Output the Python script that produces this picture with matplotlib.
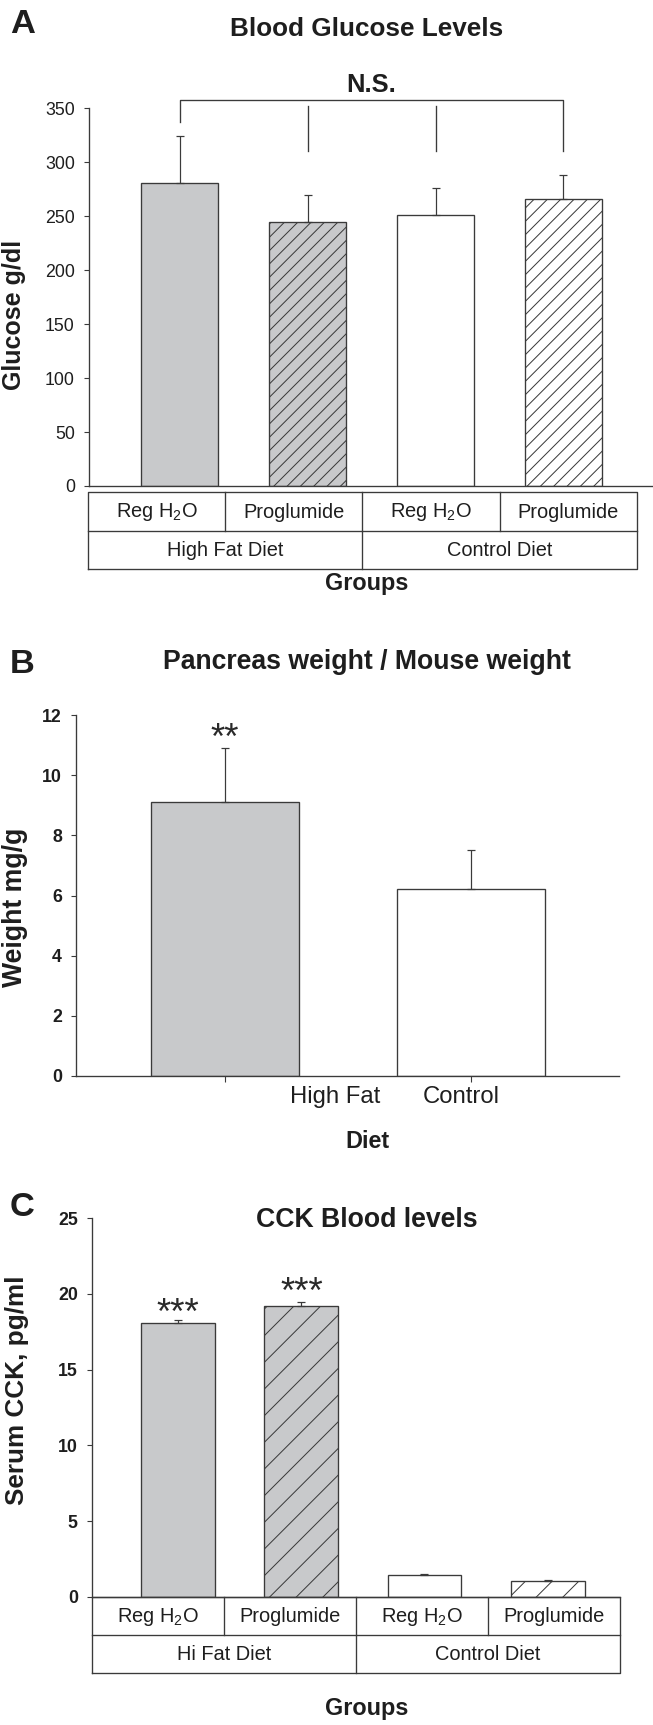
import matplotlib.pyplot as plt
import numpy as np

plt.rcParams['font.family'] = ['Liberation Sans', 'DejaVu Sans']
plt.rcParams['mathtext.fontset'] = 'custom'
plt.rcParams['mathtext.rm'] = 'Liberation Sans'
plt.rcParams['hatch.linewidth'] = 0.9

# data
group_labels = ['Reg H$_2$O', 'Proglumide', 'Reg H$_2$O', 'Proglumide']
glucose_diets = ['High Fat Diet', 'Control Diet']
glucose_mean = [281, 245, 251, 266]
glucose_sem = [43, 25, 25, 22]

pancreas_diets = ['High Fat', 'Control']
pancreas_mean = [9.1, 6.2]
pancreas_sem = [1.8, 1.3]

cck_diets = ['Hi Fat Diet', 'Control Diet']
cck_mean = [18.1, 19.2, 1.43, 1.06]
cck_sem = [0.2, 0.3, 0.05, 0.06]

GRAY = '#c8c9cb'
EDGE = '#3a3a3a'
TXT = '#1e1e1e'
W, H, DPI = 653, 1725, 80

fig = plt.figure(figsize=(W / DPI, H / DPI), dpi=DPI)


def px_axes(left, top, right, bottom):
    return fig.add_axes([left / W, 1 - bottom / H, (right - left) / W, (bottom - top) / H])


def ftext(x, y, s, **kw):
    # place text by pixel position (y from top)
    kw.setdefault('color', TXT)
    return fig.text(x / W, 1 - y / H, s, **kw)


def style_axes(ax, ymax, bold_ticks=False):
    for s in ['top', 'right']:
        ax.spines[s].set_visible(False)
    for s in ['left', 'bottom']:
        ax.spines[s].set_color(EDGE)
        ax.spines[s].set_linewidth(1.2)
    ax.spines['left'].set_bounds(0, ymax)
    ax.tick_params(axis='y', direction='out', length=4.5, width=1.0, color=EDGE,
                   labelsize=16, pad=8, labelcolor=TXT)
    if bold_ticks:
        for t in ax.get_yticklabels():
            t.set_fontweight('bold')


def draw_table(left, top, right, bottom, groups, diets, fs=18):
    tax = px_axes(left, top, right, bottom)
    tax.set_xlim(0, 4)
    tax.set_ylim(0, 2)
    tax.axis('off')
    kw = dict(color=EDGE, lw=1.2, clip_on=False)
    tax.plot([0, 4, 4, 0, 0], [0, 0, 2, 2, 0], **kw)
    tax.plot([0, 4], [1, 1], **kw)
    for xv in [1, 2, 3]:
        tax.plot([xv, xv], [1, 2], **kw)
    tax.plot([2, 2], [0, 1], **kw)
    for i, g in enumerate(groups):
        tax.text(i + 0.5, 1.48, g, ha='center', va='center', fontsize=fs, color=TXT)
    for i, d in enumerate(diets):
        tax.text(2 * i + 1, 0.48, d, ha='center', va='center', fontsize=fs, color=TXT)


def bars(ax, x, mean, sem, fills, hatches, width):
    for xi, m, f, h in zip(x, mean, fills, hatches):
        ax.bar(xi, m, width=width, color=f, edgecolor=EDGE, linewidth=1.2, hatch=h, zorder=2)
    ax.errorbar(x, mean, yerr=[np.zeros(len(sem)), sem], fmt='none', ecolor=EDGE,
                elinewidth=1.1, capsize=3.6, capthick=1.1, zorder=3)


# ---------- A: blood glucose ----------
axA = px_axes(88.7, 108.3, 653, 486)
xA = np.arange(len(glucose_mean))
bars(axA, xA, glucose_mean, glucose_sem, [GRAY, GRAY, 'white', 'white'],
     ['', '//', '', '//'], 0.6)
axA.set_xlim(-0.711, 3.70)
axA.set_ylim(0, 350)
axA.set_yticks(range(0, 351, 50))
axA.set_xticks([])
style_axes(axA, 350)
lk = dict(color=EDGE, lw=1.2, clip_on=False)
axA.plot([0, 0, 3, 3], [337, 358, 358, 310], **lk)
axA.plot([1, 1], [310, 352], **lk)
axA.plot([2, 2], [310, 352], **lk)
axA.text(1.5, 365.5, 'N.S.', ha='center', va='baseline', fontsize=23, fontweight='bold',
         color=TXT, clip_on=False)
draw_table(88, 492.3, 636.7, 568.7, group_labels, glucose_diets)
ftext(14, 315, 'Glucose g/dl', rotation=90, ha='center', va='center',
      fontsize=22.5, fontweight='bold')
ftext(367, 36, 'Blood Glucose Levels', ha='center', va='baseline',
      fontsize=23.5, fontweight='bold')
ftext(367, 590, 'Groups', ha='center', va='baseline', fontsize=21, fontweight='bold')
ftext(10, 33, 'A', ha='left', va='baseline', fontsize=31, fontweight='bold')

# ---------- B: pancreas weight ----------
axB = px_axes(76, 715, 618.8, 1076)
xB = np.arange(len(pancreas_mean))
bars(axB, xB, pancreas_mean, pancreas_sem, [GRAY, 'white'], ['', ''], 0.6)
axB.set_xlim(-0.605, 1.60)
axB.set_ylim(0, 12)
axB.set_yticks(range(0, 13, 2))
axB.set_xticks(xB)
axB.set_xticklabels([])
axB.tick_params(axis='x', direction='out', length=5, width=1.0, color=EDGE)
style_axes(axB, 12, bold_ticks=True)
axB.text(0, 10.87, '**', ha='center', va='baseline', fontsize=33, color='#2a2a2a')
# the diet labels sit off their ticks in the original
trB = axB.get_xaxis_transform()
axB.text(0.448, -0.058, pancreas_diets[0], ha='center', va='center', fontsize=21.5,
         color=TXT, transform=trB)
axB.text(0.958, -0.058, pancreas_diets[1], ha='center', va='center', fontsize=21.5,
         color=TXT, transform=trB)
ftext(15, 907, 'Weight mg/g', rotation=90, ha='center', va='center',
      fontsize=24, fontweight='bold')
ftext(367, 669, 'Pancreas weight / Mouse weight', ha='center', va='baseline',
      fontsize=24, fontweight='bold')
ftext(367, 1148, 'Diet', ha='center', va='baseline', fontsize=21, fontweight='bold')
ftext(10, 673, 'B', ha='left', va='baseline', fontsize=31, fontweight='bold')

# ---------- C: CCK ----------
axC = px_axes(91.7, 1218.3, 619.6, 1596.7)
xC = np.arange(len(cck_mean))
bars(axC, xC, cck_mean, cck_sem, [GRAY, GRAY, 'white', 'white'],
     ['', '/', '', '/'], 0.6)
axC.set_xlim(-0.703, 3.585)
axC.set_ylim(0, 25)
axC.set_yticks(range(0, 26, 5))
axC.set_xticks([])
style_axes(axC, 25, bold_ticks=True)
axC.text(0, 18.05, '***', ha='center', va='baseline', fontsize=33, color='#2a2a2a')
axC.text(1, 19.4, '***', ha='center', va='baseline', fontsize=33, color='#2a2a2a')
draw_table(91.7, 1596.7, 619.6, 1673.3, group_labels, cck_diets)
ftext(17, 1390, 'Serum CCK, pg/ml', rotation=90, ha='center', va='center',
      fontsize=23.5, fontweight='bold')
ftext(367, 1227, 'CCK Blood levels', ha='center', va='baseline',
      fontsize=24, fontweight='bold')
ftext(367, 1715, 'Groups', ha='center', va='baseline', fontsize=21, fontweight='bold')
ftext(10, 1216, 'C', ha='left', va='baseline', fontsize=31, fontweight='bold')

fig.savefig('out.png', dpi=DPI, facecolor='white')
